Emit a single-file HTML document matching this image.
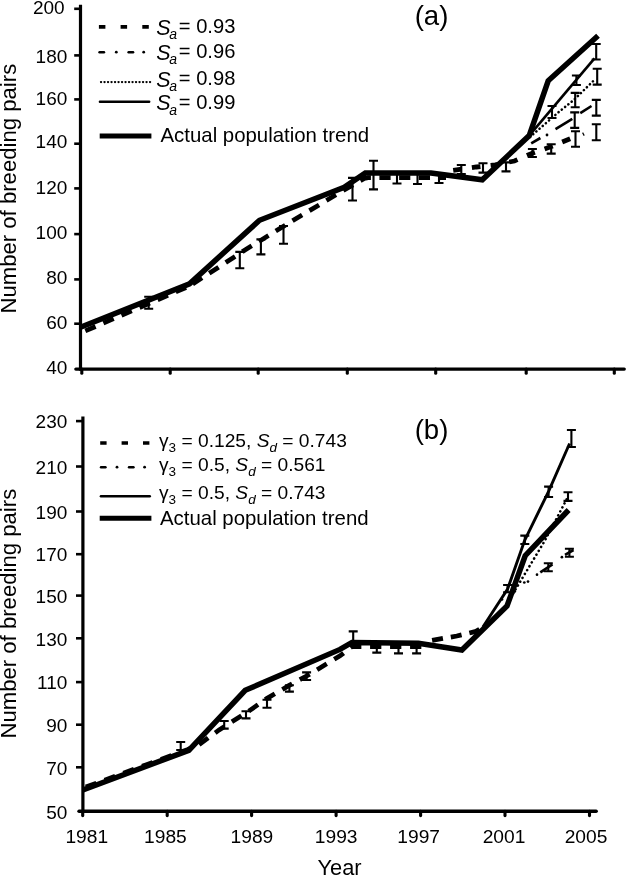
<!DOCTYPE html>
<html><head><meta charset="utf-8"><title>Figure</title>
<style>
html,body{margin:0;padding:0;background:#fff;}
svg{display:block;will-change:transform;font-family:"Liberation Sans",sans-serif;fill:#000;}
.t19{font-size:19.6px;}
.t20{font-size:20.4px;}
</style></head>
<body>
<svg width="626" height="875" viewBox="0 0 626 875">
<rect width="626" height="875" fill="#fff"/>
<line x1="80.5" y1="4.8" x2="80.5" y2="370.70000000000005" stroke="#000" stroke-width="3.2"/>
<line x1="75.8" y1="369.1" x2="624.3" y2="369.1" stroke="#000" stroke-width="3.2" stroke-linecap="round"/>
<line x1="74.2" y1="8.8" x2="80.5" y2="8.8" stroke="#000" stroke-width="2.6"/>
<text x="64.7" y="14" text-anchor="end" font-size="19">200</text>
<line x1="74.2" y1="55.4" x2="80.5" y2="55.4" stroke="#000" stroke-width="2.6"/>
<text x="67.3" y="62.6" text-anchor="end" font-size="19">180</text>
<line x1="74.2" y1="99.4" x2="80.5" y2="99.4" stroke="#000" stroke-width="2.6"/>
<text x="67.3" y="104.6" text-anchor="end" font-size="19">160</text>
<line x1="74.2" y1="143.7" x2="80.5" y2="143.7" stroke="#000" stroke-width="2.6"/>
<text x="67.3" y="148.4" text-anchor="end" font-size="19">140</text>
<line x1="74.2" y1="188.4" x2="80.5" y2="188.4" stroke="#000" stroke-width="2.6"/>
<text x="67.3" y="194.2" text-anchor="end" font-size="19">120</text>
<line x1="74.2" y1="234.1" x2="80.5" y2="234.1" stroke="#000" stroke-width="2.6"/>
<text x="67.3" y="239" text-anchor="end" font-size="19">100</text>
<line x1="74.2" y1="279.4" x2="80.5" y2="279.4" stroke="#000" stroke-width="2.6"/>
<text x="67.3" y="284.1" text-anchor="end" font-size="19">80</text>
<line x1="74.2" y1="323.7" x2="80.5" y2="323.7" stroke="#000" stroke-width="2.6"/>
<text x="67.3" y="329.4" text-anchor="end" font-size="19">60</text>
<text x="67.3" y="374.3" text-anchor="end" font-size="19">40</text>
<line x1="81.8" y1="369.1" x2="81.8" y2="373.2" stroke="#000" stroke-width="3.1" stroke-linecap="round"/>
<line x1="170.2" y1="369.1" x2="170.2" y2="373.2" stroke="#000" stroke-width="3.1" stroke-linecap="round"/>
<line x1="258.2" y1="369.1" x2="258.2" y2="373.2" stroke="#000" stroke-width="3.1" stroke-linecap="round"/>
<line x1="347.3" y1="369.1" x2="347.3" y2="373.2" stroke="#000" stroke-width="3.1" stroke-linecap="round"/>
<line x1="435.7" y1="369.1" x2="435.7" y2="373.2" stroke="#000" stroke-width="3.1" stroke-linecap="round"/>
<line x1="526.2" y1="369.1" x2="526.2" y2="373.2" stroke="#000" stroke-width="3.1" stroke-linecap="round"/>
<line x1="614.3" y1="369.1" x2="614.3" y2="373.2" stroke="#000" stroke-width="3.1" stroke-linecap="round"/>
<polyline points="80.5,327.2 189.5,283.8 259.5,220.3 344.2,187.3 365.3,172.9 431,172.9 482.3,179.8 529.2,135.6 548.2,80.8 598,35.8" fill="none" stroke="#000" stroke-width="5.5" stroke-linecap="butt" stroke-linejoin="miter"/>
<polyline points="85.3,330.9 190,285.8" fill="none" stroke="#000" stroke-width="4.7" stroke-linecap="butt" stroke-linejoin="miter" stroke-dasharray="11.2 8.5"/>
<polyline points="192.7,284 245,250 295,219.2 345,189.5 364.3,178.4 368,177.7 446,177.7" fill="none" stroke="#000" stroke-width="4.7" stroke-linecap="butt" stroke-linejoin="miter" stroke-dasharray="11.2 8.5"/>
<polyline points="453.2,170.4 476.4,167 495.2,164.8 514.4,161 532.4,153.2 551.2,146.6 574,137.2" fill="none" stroke="#000" stroke-width="4.8" stroke-linecap="butt" stroke-linejoin="miter" stroke-dasharray="8.6 10.3"/>
<polyline points="529.2,135.6 594.5,58.3" fill="none" stroke="#000" stroke-width="2.6" stroke-linecap="butt" stroke-linejoin="miter"/>
<polyline points="530,137 558,112.6 574,99.8 594.3,80" fill="none" stroke="#000" stroke-width="2.6" stroke-linecap="round" stroke-linejoin="miter" stroke-dasharray="0.1 4.1"/>
<polyline points="531.2,143.3 540.4,138" fill="none" stroke="#000" stroke-width="2.6" stroke-linecap="butt" stroke-linejoin="miter"/>
<circle cx="547" cy="135" r="1.4"/>
<polyline points="555.5,129.2 572.3,118.8" fill="none" stroke="#000" stroke-width="2.6" stroke-linecap="butt" stroke-linejoin="miter"/>
<polyline points="580.3,113.2 591.5,106" fill="none" stroke="#000" stroke-width="2.6" stroke-linecap="butt" stroke-linejoin="miter"/>
<polyline points="582.6,132.6 584.2,135.6" fill="none" stroke="#000" stroke-width="1.2" stroke-linecap="butt" stroke-linejoin="miter"/>
<path d="M148.7,296.8V308.8M144.2,296.8H153.2M144.2,308.8H153.2" fill="none" stroke="#000" stroke-width="2.1"/>
<path d="M239.8,251.9V268.2M235.3,251.9H244.3M235.3,268.2H244.3" fill="none" stroke="#000" stroke-width="2.1"/>
<path d="M260.9,239.4V254.4M256.4,239.4H265.4M256.4,254.4H265.4" fill="none" stroke="#000" stroke-width="2.1"/>
<path d="M283.5,226V243.8M279.0,226H288.0M279.0,243.8H288.0" fill="none" stroke="#000" stroke-width="2.1"/>
<path d="M352.5,177.9V200.5M348.0,177.9H357.0M348.0,200.5H357.0" fill="none" stroke="#000" stroke-width="2.1"/>
<path d="M373.5,160.7V189.4M369.0,160.7H378.0M369.0,189.4H378.0" fill="none" stroke="#000" stroke-width="2.1"/>
<path d="M397,172V183.5M392.5,172H401.5M392.5,183.5H401.5" fill="none" stroke="#000" stroke-width="2.1"/>
<path d="M417.5,172V184M413.0,172H422.0M413.0,184H422.0" fill="none" stroke="#000" stroke-width="2.1"/>
<path d="M439,173V183M434.5,173H443.5M434.5,183H443.5" fill="none" stroke="#000" stroke-width="2.1"/>
<path d="M461.3,165V174M456.8,165H465.8M456.8,174H465.8" fill="none" stroke="#000" stroke-width="2.1"/>
<path d="M483,163.2V172.6M478.5,163.2H487.5M478.5,172.6H487.5" fill="none" stroke="#000" stroke-width="2.1"/>
<path d="M506,162.4V171.4M501.5,162.4H510.5M501.5,171.4H510.5" fill="none" stroke="#000" stroke-width="2.1"/>
<path d="M532.4,149V157M527.9,149H536.9M527.9,157H536.9" fill="none" stroke="#000" stroke-width="2.1"/>
<path d="M551.2,144.3V153.6M546.7,144.3H555.7M546.7,153.6H555.7" fill="none" stroke="#000" stroke-width="2.1"/>
<path d="M575.5,131.2V146.7M571.0,131.2H580.0M571.0,146.7H580.0" fill="none" stroke="#000" stroke-width="2.1"/>
<path d="M596.3,124.3V140.3M591.8,124.3H600.8M591.8,140.3H600.8" fill="none" stroke="#000" stroke-width="2.1"/>
<path d="M574.7,112.4V127.9M570.2,112.4H579.2M570.2,127.9H579.2" fill="none" stroke="#000" stroke-width="2.1"/>
<path d="M596.3,99.9V115.6M591.8,99.9H600.8M591.8,115.6H600.8" fill="none" stroke="#000" stroke-width="2.1"/>
<path d="M575.2,92.9V107.3M570.7,92.9H579.7M570.7,107.3H579.7" fill="none" stroke="#000" stroke-width="2.1"/>
<path d="M597.2,68.8V84.6M592.7,68.8H601.7M592.7,84.6H601.7" fill="none" stroke="#000" stroke-width="2.1"/>
<path d="M552,106V118M547.5,106H556.5M547.5,118H556.5" fill="none" stroke="#000" stroke-width="2.1"/>
<path d="M576.4,75.5V85M571.9,75.5H580.9M571.9,85H580.9" fill="none" stroke="#000" stroke-width="2.1"/>
<path d="M596.2,44V59.5M591.7,44H600.7M591.7,59.5H600.7" fill="none" stroke="#000" stroke-width="2.1"/>
<polyline points="98.9,26.9 150,26.9" fill="none" stroke="#000" stroke-width="3.6" stroke-linecap="butt" stroke-linejoin="miter" stroke-dasharray="6.5 15.2"/>
<polyline points="99.5,52.3 104,52.3" fill="none" stroke="#000" stroke-width="2.4" stroke-linecap="round" stroke-linejoin="miter"/>
<polyline points="128.6,52.3 133.1,52.3" fill="none" stroke="#000" stroke-width="2.4" stroke-linecap="round" stroke-linejoin="miter"/>
<circle cx="116.3" cy="52.2" r="1.4"/><circle cx="143.7" cy="52.2" r="1.4"/>
<polyline points="101,82.1 150.6,82.1" fill="none" stroke="#000" stroke-width="2.3" stroke-linecap="round" stroke-linejoin="miter" stroke-dasharray="0.1 3.4"/>
<polyline points="99.9,101.8 149.2,101.8" fill="none" stroke="#000" stroke-width="2.4" stroke-linecap="round" stroke-linejoin="miter"/>
<polyline points="99.7,136 151.4,136" fill="none" stroke="#000" stroke-width="5" stroke-linecap="butt" stroke-linejoin="miter"/>
<text x="156.3" y="34.5" font-size="21.5" font-style="italic">S</text>
<text x="169.3" y="39.1" font-size="14" font-style="italic">a</text>
<text x="178.8" y="32.7" class="t19" textLength="56.6" lengthAdjust="spacingAndGlyphs">= 0.93</text>
<text x="156.3" y="59.6" font-size="21.5" font-style="italic">S</text>
<text x="169.3" y="64.2" font-size="14" font-style="italic">a</text>
<text x="178.8" y="57.800000000000004" class="t19" textLength="56.6" lengthAdjust="spacingAndGlyphs">= 0.96</text>
<text x="156.3" y="86.6" font-size="21.5" font-style="italic">S</text>
<text x="169.3" y="91.19999999999999" font-size="14" font-style="italic">a</text>
<text x="178.8" y="84.8" class="t19" textLength="56.6" lengthAdjust="spacingAndGlyphs">= 0.98</text>
<text x="156.3" y="110.4" font-size="21.5" font-style="italic">S</text>
<text x="169.3" y="115.0" font-size="14" font-style="italic">a</text>
<text x="178.8" y="108.60000000000001" class="t19" textLength="56.6" lengthAdjust="spacingAndGlyphs">= 0.99</text>
<text x="160.5" y="142.4" class="t20">Actual population trend</text>
<text x="431.5" y="24.5" text-anchor="middle" font-size="27.6">(a)</text>
<text transform="translate(16.4,313.6) rotate(-90)" font-size="22.15">Number of breeding pairs</text>
<line x1="82.9" y1="416.6" x2="82.9" y2="812.9" stroke="#000" stroke-width="3.2"/>
<line x1="79" y1="811.3" x2="596.2" y2="811.3" stroke="#000" stroke-width="3.4" stroke-linecap="round"/>
<line x1="76" y1="421.1" x2="82.9" y2="421.1" stroke="#000" stroke-width="2.6"/>
<text x="67.3" y="427.7" text-anchor="end" font-size="19">230</text>
<line x1="76" y1="466.5" x2="82.9" y2="466.5" stroke="#000" stroke-width="2.6"/>
<text x="67.3" y="473.7" text-anchor="end" font-size="19">210</text>
<line x1="76" y1="511.5" x2="82.9" y2="511.5" stroke="#000" stroke-width="2.6"/>
<text x="67.3" y="518.7" text-anchor="end" font-size="19">190</text>
<line x1="76" y1="554.2" x2="82.9" y2="554.2" stroke="#000" stroke-width="2.6"/>
<text x="67.3" y="561.4" text-anchor="end" font-size="19">170</text>
<line x1="76" y1="595.6" x2="82.9" y2="595.6" stroke="#000" stroke-width="2.6"/>
<text x="67.3" y="602.8" text-anchor="end" font-size="19">150</text>
<line x1="76" y1="638.3" x2="82.9" y2="638.3" stroke="#000" stroke-width="2.6"/>
<text x="67.3" y="645.5" text-anchor="end" font-size="19">130</text>
<line x1="76" y1="682.1" x2="82.9" y2="682.1" stroke="#000" stroke-width="2.6"/>
<text x="67.3" y="688.5" text-anchor="end" font-size="19">110</text>
<line x1="76" y1="724.7" x2="82.9" y2="724.7" stroke="#000" stroke-width="2.6"/>
<text x="67.3" y="731.9" text-anchor="end" font-size="19">90</text>
<line x1="76" y1="767.3" x2="82.9" y2="767.3" stroke="#000" stroke-width="2.6"/>
<text x="67.3" y="774.5" text-anchor="end" font-size="19">70</text>
<text x="67.3" y="818.5" text-anchor="end" font-size="19">50</text>
<line x1="82.7" y1="811.3" x2="82.7" y2="815.6" stroke="#000" stroke-width="3.1" stroke-linecap="round"/>
<text x="86.8" y="843.2" text-anchor="middle" font-size="19.2">1981</text>
<line x1="167.2" y1="811.3" x2="167.2" y2="815.6" stroke="#000" stroke-width="3.1" stroke-linecap="round"/>
<text x="165.4" y="843.2" text-anchor="middle" font-size="19.2">1985</text>
<line x1="251.6" y1="811.3" x2="251.6" y2="815.6" stroke="#000" stroke-width="3.1" stroke-linecap="round"/>
<text x="251.9" y="843.2" text-anchor="middle" font-size="19.2">1989</text>
<line x1="336.1" y1="811.3" x2="336.1" y2="815.6" stroke="#000" stroke-width="3.1" stroke-linecap="round"/>
<text x="336.2" y="843.2" text-anchor="middle" font-size="19.2">1993</text>
<line x1="420.6" y1="811.3" x2="420.6" y2="815.6" stroke="#000" stroke-width="3.1" stroke-linecap="round"/>
<text x="418.7" y="843.2" text-anchor="middle" font-size="19.2">1997</text>
<line x1="505.0" y1="811.3" x2="505.0" y2="815.6" stroke="#000" stroke-width="3.1" stroke-linecap="round"/>
<text x="504" y="843.2" text-anchor="middle" font-size="19.2">2001</text>
<line x1="589.5" y1="811.3" x2="589.5" y2="815.6" stroke="#000" stroke-width="3.1" stroke-linecap="round"/>
<text x="586" y="843.2" text-anchor="middle" font-size="19.2">2005</text>
<text x="339.5" y="874.8" text-anchor="middle" font-size="21.8">Year</text>
<polyline points="82.9,790 188.8,750.3 245.2,690.3 340,649.4 352,642.4 418.4,643.2 461.9,650 507,606 525.2,555.7 568.6,510" fill="none" stroke="#000" stroke-width="5.5" stroke-linecap="butt" stroke-linejoin="miter"/>
<polyline points="85.8,787 188,749.4 192,747.4" fill="none" stroke="#000" stroke-width="4.7" stroke-linecap="butt" stroke-linejoin="miter" stroke-dasharray="11.3 8.7"/>
<polyline points="199.1,744.7 219.1,729.9 246,713 266.7,698.6 289.2,685.4 306.6,676 340,655.8 352,646.5 428,646.8" fill="none" stroke="#000" stroke-width="4.7" stroke-linecap="butt" stroke-linejoin="miter" stroke-dasharray="11.3 8.7"/>
<polyline points="432.1,640.4 456.8,636 476,631.4 487,624.5" fill="none" stroke="#000" stroke-width="4.8" stroke-linecap="butt" stroke-linejoin="miter" stroke-dasharray="11 8"/>
<polyline points="482.9,627 507.6,589 524.8,540 548.6,491.4 569.6,443.5" fill="none" stroke="#000" stroke-width="2.9" stroke-linecap="butt" stroke-linejoin="miter"/>
<polyline points="508.6,601 545,540.4 567,498.6" fill="none" stroke="#000" stroke-width="2.6" stroke-linecap="round" stroke-linejoin="miter" stroke-dasharray="0.1 4.4"/>
<circle cx="502" cy="599.5" r="1.35"/>
<circle cx="514.8" cy="591.5" r="1.35"/>
<circle cx="524.3" cy="582.5" r="1.35"/>
<circle cx="528" cy="581.6" r="1.35"/>
<circle cx="537" cy="574.7" r="1.35"/>
<circle cx="561.9" cy="557.2" r="1.35"/>
<polyline points="540.3,572.3 552.5,564.3" fill="none" stroke="#000" stroke-width="2.6" stroke-linecap="butt" stroke-linejoin="miter"/>
<polyline points="565,554.8 573.5,550" fill="none" stroke="#000" stroke-width="2.6" stroke-linecap="butt" stroke-linejoin="miter"/>
<path d="M180.7,742V750M176.2,742H185.2M176.2,750H185.2" fill="none" stroke="#000" stroke-width="2.1"/>
<path d="M224.2,721V728.6M219.7,721H228.7M219.7,728.6H228.7" fill="none" stroke="#000" stroke-width="2.1"/>
<path d="M246,711.3V718.4M241.5,711.3H250.5M241.5,718.4H250.5" fill="none" stroke="#000" stroke-width="2.1"/>
<path d="M267,699.8V707.7M262.5,699.8H271.5M262.5,707.7H271.5" fill="none" stroke="#000" stroke-width="2.1"/>
<path d="M289.4,685.2V691.6M284.9,685.2H293.9M284.9,691.6H293.9" fill="none" stroke="#000" stroke-width="2.1"/>
<path d="M306.6,672.4V680M302.1,672.4H311.1M302.1,680H311.1" fill="none" stroke="#000" stroke-width="2.1"/>
<path d="M353.2,631.4V645M348.7,631.4H357.7M348.7,645H357.7" fill="none" stroke="#000" stroke-width="2.1"/>
<path d="M376.8,644V652.6M372.3,644H381.3M372.3,652.6H381.3" fill="none" stroke="#000" stroke-width="2.1"/>
<path d="M398.5,644V653.4M394.0,644H403.0M394.0,653.4H403.0" fill="none" stroke="#000" stroke-width="2.1"/>
<path d="M416.6,644V653.4M412.1,644H421.1M412.1,653.4H421.1" fill="none" stroke="#000" stroke-width="2.1"/>
<path d="M507.6,585V592.3M503.1,585H512.1M503.1,592.3H512.1" fill="none" stroke="#000" stroke-width="2.1"/>
<path d="M524.8,535.6V544M520.3,535.6H529.3M520.3,544H529.3" fill="none" stroke="#000" stroke-width="2.1"/>
<path d="M548.6,486.6V497M544.1,486.6H553.1M544.1,497H553.1" fill="none" stroke="#000" stroke-width="2.1"/>
<path d="M571.4,430V447M566.9,430H575.9M566.9,447H575.9" fill="none" stroke="#000" stroke-width="2.1"/>
<path d="M568,492.3V500.9M563.5,492.3H572.5M563.5,500.9H572.5" fill="none" stroke="#000" stroke-width="2.1"/>
<path d="M548.3,563.2V571.2M543.8,563.2H552.8M543.8,571.2H552.8" fill="none" stroke="#000" stroke-width="2.1"/>
<path d="M569.4,548.8V556.8M564.9,548.8H573.9M564.9,556.8H573.9" fill="none" stroke="#000" stroke-width="2.1"/>
<polyline points="100.2,443 151,443" fill="none" stroke="#000" stroke-width="3.6" stroke-linecap="butt" stroke-linejoin="miter" stroke-dasharray="6.4 15"/>
<polyline points="101,467.3 105.5,467.3" fill="none" stroke="#000" stroke-width="2.4" stroke-linecap="round" stroke-linejoin="miter"/>
<polyline points="129,467.3 133.5,467.3" fill="none" stroke="#000" stroke-width="2.4" stroke-linecap="round" stroke-linejoin="miter"/>
<circle cx="117" cy="467.2" r="1.4"/><circle cx="144.6" cy="467.2" r="1.4"/>
<polyline points="100.9,496.2 149.8,496.2" fill="none" stroke="#000" stroke-width="2.4" stroke-linecap="round" stroke-linejoin="miter"/>
<polyline points="99.7,518.2 151.4,518.2" fill="none" stroke="#000" stroke-width="5" stroke-linecap="butt" stroke-linejoin="miter"/>
<text x="159" y="446.8" font-size="19.2">γ<tspan font-size="13.5" dy="5">3</tspan><tspan dy="-5"> = 0.125, </tspan><tspan font-style="italic">S</tspan><tspan font-style="italic" font-size="13.5" dy="5">d</tspan><tspan dy="-5"> = 0.743</tspan></text>
<text x="159" y="470.6" font-size="19.2">γ<tspan font-size="13.5" dy="5">3</tspan><tspan dy="-5"> = 0.5, </tspan><tspan font-style="italic">S</tspan><tspan font-style="italic" font-size="13.5" dy="5">d</tspan><tspan dy="-5"> = 0.561</tspan></text>
<text x="159" y="498.6" font-size="19.2">γ<tspan font-size="13.5" dy="5">3</tspan><tspan dy="-5"> = 0.5, </tspan><tspan font-style="italic">S</tspan><tspan font-style="italic" font-size="13.5" dy="5">d</tspan><tspan dy="-5"> = 0.743</tspan></text>
<text x="160" y="525.4" class="t20">Actual population trend</text>
<text x="431.5" y="439" text-anchor="middle" font-size="27.6">(b)</text>
<text transform="translate(16.4,738.6) rotate(-90)" font-size="22.15">Number of breeding pairs</text>
</svg>
</body></html>
